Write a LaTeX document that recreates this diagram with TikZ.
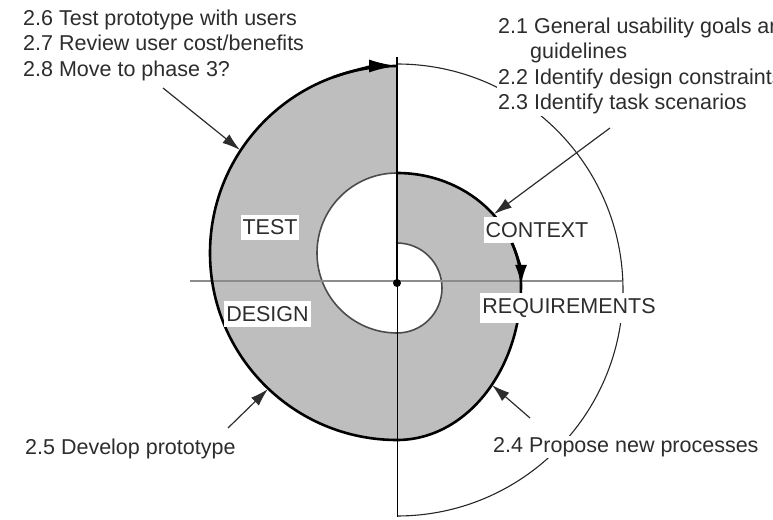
\documentclass[tikz,border=0pt]{standalone}
\usepackage{fontspec}
\setmainfont{Liberation Sans}
\usetikzlibrary{arrows.meta}
\definecolor{spiralgray}{RGB}{190,190,190}
\definecolor{inkgray}{RGB}{45,45,45}
\newcommand{\figfont}{\fontsize{21.5}{25.5}\selectfont}

\begin{document}
\begin{tikzpicture}[x=1pt,y=1pt,
 lbl/.style={fill=white,inner xsep=2pt,inner ysep=5pt,font=\figfont,text=inkgray},
 note/.style={fill=white,inner sep=1.5pt,align=left,font=\figfont,text=inkgray},
 ptr/.style={-{Latex[length=18pt,width=11pt]},line width=1.2pt,draw=inkgray},
 rim/.style={line width=2.6pt,draw=black},
 seam/.style={line width=1.6pt,draw=black!70}]
\useasboundingbox (0,0) rectangle (773,519);
\clip (0,0) rectangle (773,519);

% spiral body: gray halves, then the two white holes
\fill[spiralgray](397,453)arc[start angle=90,end angle=270,radius=187]--cycle;
\fill[spiralgray](397,346)arc[start angle=90,end angle=0,x radius=124,y radius=112]
 arc[start angle=0,end angle=-90,x radius=124,y radius=155]--cycle;
\fill[white](397,346)arc[start angle=90,end angle=270,radius=80]--cycle;
\fill[white](397,276)arc[start angle=90,end angle=-90,radius=45]--cycle;
\draw[seam](397,346)arc[start angle=90,end angle=270,radius=80];
\draw[seam](397,276)arc[start angle=90,end angle=-90,radius=45];

% outer guide arc and axes
\draw[line width=1.1pt,draw=black!85](397,455)arc[start angle=90,end angle=-90,radius=226];
\draw[line width=2.4pt,draw=black!45](190,238)--(622,238);
\draw[rim](397,79)arc[start angle=270,end angle=90,radius=187];
\draw[rim,-{Latex[length=28pt,width=13pt]}](333.04,441.72)arc[start angle=110,end angle=90,radius=187];
\draw[rim](397,346)arc[start angle=90,end angle=0,x radius=124,y radius=112]
 arc[start angle=0,end angle=-90,x radius=124,y radius=155];
\coordinate (O) at (397,236);
\draw[line width=2.6pt](397,462)--(O);
\draw[line width=1pt](O)--(397,2);
\fill (O) circle[radius=4];

% phase notes
\node[note,anchor=north west] (n26) at (21.5,511.2) {2.6 Test prototype with users\\2.7 Review user cost/benefits\\2.8 Move to phase 3?};
\node[note,anchor=north west] (n21) at (496.5,503.2) {2.1 General usability goals and\\\hspace*{32pt}guidelines\\2.2 Identify design constraints\\2.3 Identify task scenarios};
\node[note,anchor=base west] (n25) at (23.5,64.5) {2.5 Develop prototype};
\node[note,anchor=base west] (n24) at (491.5,66.5) {2.4 Propose new processes};

% quadrant labels
\node[lbl] (test) at (270,291.5) {TEST};
\node[lbl] (design) at (267.5,205) {DESIGN};
\node[lbl] (context) at (537,289) {CONTEXT};
\node[lbl] (req) at (569,211) {REQUIREMENTS};
\draw[rim,-{Latex[length=20pt,width=12pt]}](512,276)arc[start angle=22,end angle=0,x radius=124,y radius=112];

% pointers onto the spiral
\coordinate (p6) at (163,431); \coordinate (t6) at (240,369);
\coordinate (p1) at (610,391); \coordinate (t1) at (494,305);
\coordinate (p5) at (228,91);  \coordinate (t5) at (268,130);
\coordinate (p4) at (530,101); \coordinate (t4) at (492,134);
\draw[ptr](p6)--(t6);
\draw[ptr](p1)--(t1);
\draw[ptr](p5)--(t5);
\draw[ptr](p4)--(t4);
\end{tikzpicture}
\end{document}
